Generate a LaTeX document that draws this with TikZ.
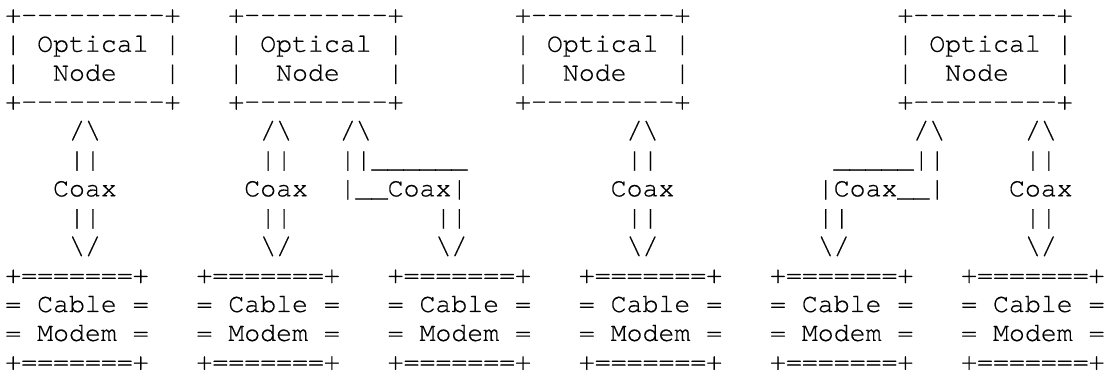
\documentclass[tikz,border=0pt]{standalone}
\usepackage{fontspec}
\setmonofont[FakeBold=0.5]{TeX Gyre Cursor}
\tikzset{asc/.style={inner sep=0pt, outer sep=0pt, anchor=base west, font=\ttfamily\fontsize{10}{12}\selectfont}}
\newcommand\asc[4]{\node[asc] (#1) at ({2pt+(#2)*6pt},{-8.6pt-((#3)-1)*10.89pt}) {#4};}
\newcommand\bs{\textbackslash}
\begin{document}
\begin{tikzpicture}
\useasboundingbox (0pt,0pt) rectangle (418.8pt,-141.6pt);
% optical nodes
\foreach \n/\c in {oa/0, ob/14, oc/32, od/56}{
  \asc{\n1}{\c}{1}{+---------+}
  \asc{\n2}{\c}{2}{|~Optical~|}
  \asc{\n3}{\c}{3}{|~~Node~~~|}
  \asc{\n4}{\c}{4}{+---------+}
}
% cable modems
\foreach \n/\c in {ma/0, mb/12, mc/24, md/36, me/48, mf/60}{
  \asc{\n1}{\c}{10}{+=======+}
  \asc{\n2}{\c}{11}{=~Cable~=}
  \asc{\n3}{\c}{12}{=~Modem~=}
  \asc{\n4}{\c}{13}{+=======+}
}
% straight coax links
\foreach \n/\c/\k in {la/4/3, lb/16/15, ld/39/38, lf/64/63}{
  \asc{\n5}{\c}{5}{/\bs}
  \asc{\n6}{\c}{6}{||}
  \asc{\n7}{\k}{7}{Coax}
  \asc{\n8}{\c}{8}{||}
  \asc{\n9}{\c}{9}{\bs/}
}
% offset coax link (right)
\asc{lc5}{21}{5}{/\bs}
\asc{lc6}{21}{6}{||\_\_\_\_\_\_}
\asc{lc7}{21}{7}{|\_\_Coax|}
\asc{lc8}{27}{8}{||}
\asc{lc9}{27}{9}{\bs/}
% offset coax link (left)
\asc{le5}{57}{5}{/\bs}
\asc{le6}{52}{6}{\_\_\_\_\_||}
\asc{le7}{51}{7}{|Coax\_\_|}
\asc{le8}{51}{8}{||}
\asc{le9}{51}{9}{\bs/}
\end{tikzpicture}
\end{document}
